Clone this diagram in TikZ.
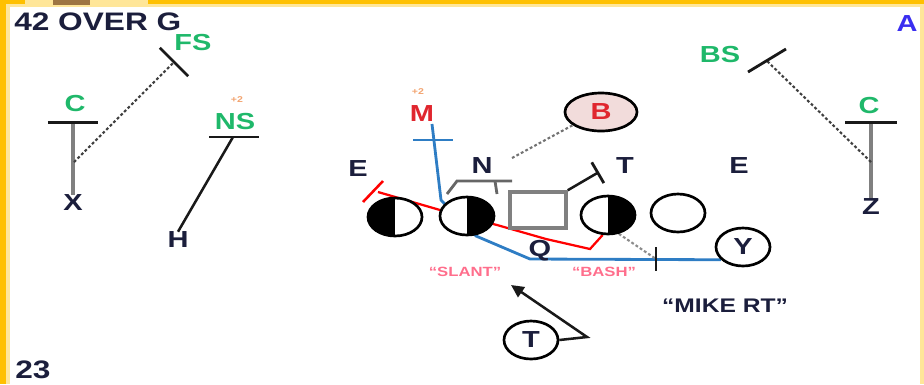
\documentclass[tikz,border=0pt]{standalone}
\usepackage{fontspec}
\setmainfont{Liberation Sans}[FakeStretch=1.25]
\usetikzlibrary{shapes.geometric,arrows.meta,backgrounds}
\definecolor{cadre}{HTML}{FFC000}
\definecolor{cadreclair}{HTML}{FFE699}
\definecolor{encre}{HTML}{1B1E3C}
\definecolor{vert}{HTML}{1FB86A}
\definecolor{rouge}{HTML}{E0262E}
\definecolor{bleu}{HTML}{2E7DC4}
\definecolor{rose}{HTML}{FF6E8C}
\definecolor{saumon}{HTML}{F2DCDB}
\definecolor{bleuA}{HTML}{3A2EF0}
\definecolor{peche}{HTML}{F2A470}

\begin{document}
\begin{tikzpicture}[x=0.025cm, y=-0.025cm]
\tikzset{rond/.style={draw, ellipse, line width=1.9pt, fill=white, minimum width=1.35cm, minimum height=0.95cm, inner sep=0pt},
  noirg/.style={rond, path picture={\fill[black] (path picture bounding box.north west) rectangle (path picture bounding box.south);}},
  noird/.style={rond, path picture={\fill[black] (path picture bounding box.north) rectangle (path picture bounding box.south east);}},
  lettre/.style={font=\bfseries\fontsize{16.5}{17}\selectfont, text=encre, inner sep=0pt},
  grand/.style={lettre, font=\bfseries\fontsize{18}{18}\selectfont},
  poste/.style={lettre, text=vert},
  petit/.style={font=\bfseries\fontsize{6}{6}\selectfont, text=peche, inner sep=0pt},
  appel/.style={font=\bfseries\fontsize{9.5}{10}\selectfont, text=rose, inner sep=0pt},
  tige/.style={line width=2.8pt, black!50},
  trait/.style={line width=1.8pt, black!90},
  barre/.style={line width=2pt, black!90},
  pointille/.style={line width=1.5pt, black!75, dash pattern=on 2pt off 1.6pt},
  bout/.style={-{Bar[width=#1, line width=2pt, color=black!90]}}}
\useasboundingbox (0,0) rectangle (924,384);
% cadre
\fill[cadreclair] (6,4) rectangle (10,384);
\fill[cadreclair] (6,4) rectangle (924,7);
\fill[cadre] (0,0) rectangle (6,384);
\fill[cadre] (0,0) rectangle (924,4);
\fill[cadreclair] (920,7) rectangle (924,384);
\fill[cadreclair] (25,0) rectangle (148,7);
\fill[brown!70!black, opacity=0.8] (53,0) rectangle (90,5);

\node[grand, anchor=west] (titre) at (14,22) {42 OVER G};
\node[lettre, text=bleuA] (coin) at (907,24) {A};
\node[grand, anchor=west] (num) at (15,370) {23};

% secondaire
\node[poste] (FS) at (193,43) {FS};
\node[poste] (C1) at (75,104) {C};
\node[lettre] (X) at (73,203) {X};
\node[petit] (NSp) at (237,100) {+2};
\node[poste] (NS) at (235,122) {NS};
\node[lettre] (H) at (178,240) {H};
\node[poste] (BS) at (720,55) {BS};
\node[poste] (C2) at (869,106) {C};
\node[lettre] (Z) at (871,207) {Z};

% front
\node[lettre] (E1) at (358,169) {E};
\node[lettre] (N) at (482,166) {N};
\node[lettre] (T1) at (625,166) {T};
\node[lettre] (E2) at (739,166) {E};
\node[petit] (Mp) at (418,92) {+2};
\node[lettre, text=rouge] (M) at (422,114) {M};
\node[rond, lettre, text=rouge, fill=saumon, minimum width=1.8cm] (B) at (601,112) {B};

% attaque
\node[noirg] (G1) at (395,217) {};
\node[noird] (G2) at (467,216) {};
\node[draw=gray, line width=2.5pt, fill=white, minimum width=1.4cm, minimum height=0.9cm, inner sep=0pt] (Ctr) at (538,210) {};
\node[noird] (G3) at (608,215) {};
\node[rond] (G4) at (678,213) {};
\node[lettre] (Q) at (540,251) {Q};
\node[rond, lettre] (Y) at (743,247) {Y};
\node[rond, lettre] (T2) at (531,340) {T};
\node[appel] (a1) at (465,272) {“SLANT”};
\node[appel] (a2) at (604,272) {“BASH”};
\node[lettre, font=\bfseries\fontsize{14}{14}\selectfont] (mike) at (725,306) {“MIKE RT”};

\coordinate (cC1) at (73,121);
\coordinate (fsA) at (74,162);
\coordinate (fsB) at (175,61);
\coordinate (cNS) at (233,137);
\coordinate (cC2) at (871,121);
\coordinate (bsA) at (871,162);
\coordinate (bsB) at (767,61);
\coordinate (nB) at (512,158);
\coordinate (cT) at (599,172);
\coordinate (k) at (656,259);
\coordinate (cM) at (432,124);
\coordinate (cE) at (378,192);
\coordinate (fl) at (511,285);

\begin{scope}[on background layer]
\draw[tige, bout=1.25cm] (X.north) -- (cC1);
\draw[pointille, bout=1cm] (fsA) -- (fsB);
\draw[trait] (H.north) -- (cNS);
\draw[barre] (cNS) ++(-24,0) -- ++(50,0);
\draw[tige, bout=1.28cm] (Z.north) -- (cC2);
\draw[pointille] (bsA) -- (bsB);
\draw[barre] (bsB) ++(-19,11) -- ++(38,-23);
\draw[pointille, black!55] (nB) -- (B.205);
% bloc du N
\draw[line width=2pt, black!60] (447,194) -- (457,181) -- (512,181) (495,181) -- (497,194);
\draw[trait, bout=0.6cm] (Ctr.north east) -- (cT);
% Y en motion
\draw[bleu, line width=2pt] (Y.210) -- (530,259) -- (476,236) -- (441,200) -- (cM);
\draw[bleu, line width=2pt] (413,140) -- (453,140);
% tirage
\draw[red, line width=1.6pt] (G3.255) -- (590,249) -- (546,239) -- (497,225) -- (440,210) -- (cE);
\draw[red, line width=1.8pt] (363,202) -- (383,181);
\draw[pointille, black!45] (G3.300) -- (k);
\draw[trait] (k) ++(0,-12) -- ++(0,24);
\draw[trait, -{Triangle[length=0.32cm, width=0.3cm]}] (T2.east) -- (587,337) -- (fl);
\end{scope}
\end{tikzpicture}
\end{document}
